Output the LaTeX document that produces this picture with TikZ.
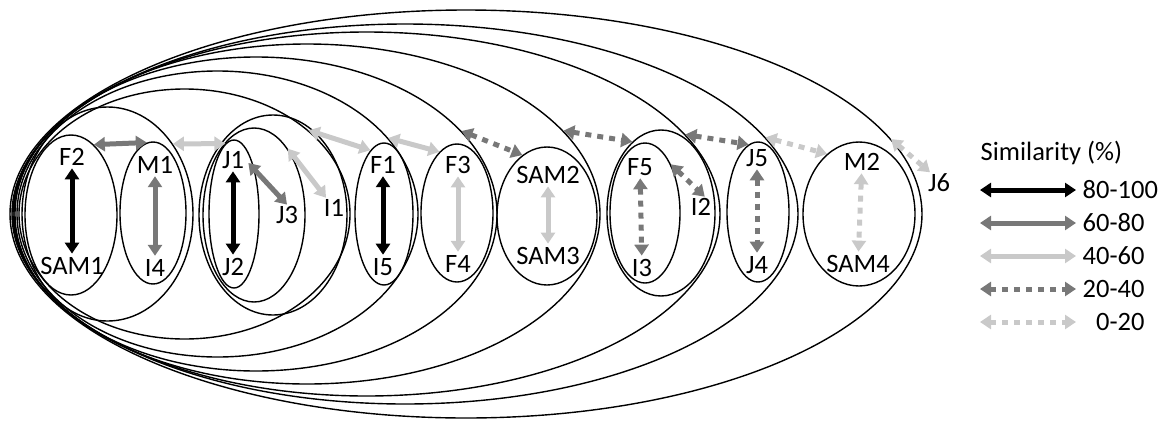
\documentclass[tikz,border=0pt]{standalone}
\usepackage{fontspec}
\setmainfont{Carlito}
\usetikzlibrary{shapes.geometric,arrows.meta}
\definecolor{simmid}{gray}{0.47}
\definecolor{simlow}{gray}{0.79}
\newcommand{\lblfont}{\fontsize{26.5}{30}\selectfont}

\tikzset{
  grp/.style={draw, ellipse, line width=1.4pt, inner sep=0pt},
  lbl/.style={inner sep=1.5pt, font=\lblfont},
  simarrow/.style={line width=5pt, {Triangle[width=14pt,length=11pt]}-{Triangle[width=14pt,length=11pt]}},
  sim80/.style={simarrow, black},
  sim60/.style={simarrow, simmid},
  sim40/.style={simarrow, simlow},
  sim20/.style={simarrow, simmid, dash pattern=on 6pt off 6pt},
  sim0/.style={simarrow, simlow, dash pattern=on 6pt off 6pt},
  pairarrow/.style={shorten <=1pt, shorten >=2pt},
}

\begin{document}
\begin{tikzpicture}[x=1pt,y=-1pt]
    \useasboundingbox (0,0) rectangle (1165,421);

    % nested clusters, all touching on the left
    \foreach \n/\cx/\w/\h in {cl1/107.5/171/214, cl2/184.5/331/250, cl3/217.5/401/286,
        cl4/256/482/314, cl5/307/586/340, cl6/366.5/707/364, cl7/405/786/380, cl8/466/912/408}
        \node[grp, minimum width=\w pt, minimum height=\h pt] (\n) at (\cx,214) {};

    % small groups
    \node[grp, minimum width=92pt, minimum height=160pt] (pFS) at (71,215) {};
    \node[grp, minimum width=66pt, minimum height=142pt] (pMI) at (153,213) {};
    \node[grp, minimum width=50pt, minimum height=148pt] (pJJ) at (234,214) {};
    \node[grp, minimum width=102pt, minimum height=174pt] (pJJ3) at (254,215) {};
    \node[grp, minimum width=148pt, minimum height=200pt] (pJI) at (273,215) {};
    \node[grp, minimum width=58pt, minimum height=142pt] (pFI) at (384,214) {};
    \node[grp, minimum width=72pt, minimum height=138pt] (pFF) at (457,213) {};
    \node[grp, minimum width=100pt, minimum height=138pt] (pSS) at (547,216) {};
    \node[grp, minimum width=70pt, minimum height=140pt] (pFI3) at (645,213) {};
    \node[grp, minimum width=108pt, minimum height=166pt] (pFI2) at (661,213) {};
    \node[grp, minimum width=62pt, minimum height=140pt] (pJ54) at (758,212) {};
    \node[grp, minimum width=112pt, minimum height=144pt] (pMS) at (859,214) {};

    % labels
    \node[lbl] (F2) at (72,157) {F2};
    \node[lbl] (SAM1) at (72,266) {SAM1};
    \node[lbl] (M1) at (155,165) {M1};
    \node[lbl] (I4) at (155,268) {I4};
    \node[lbl] (J1) at (233,160) {J1};
    \node[lbl] (J2) at (233,267) {J2};
    \node[lbl] (J3) at (287,215) {J3};
    \node[lbl] (I1) at (334,208) {I1};
    \node[lbl] (F1) at (383,165) {F1};
    \node[lbl] (I5) at (383,267) {I5};
    \node[lbl] (F3) at (458,165) {F3};
    \node[lbl] (F4) at (458,264) {F4};
    \node[lbl] (SAM2) at (548,175) {SAM2};
    \node[lbl] (SAM3) at (548,256) {SAM3};
    \node[lbl] (F5) at (640,167) {F5};
    \node[lbl] (I3) at (642,268) {I3};
    \node[lbl] (I2) at (701,207) {I2};
    \node[lbl] (J5) at (757,158) {J5};
    \node[lbl] (J4) at (757,265) {J4};
    \node[lbl] (M2) at (862,162) {M2};
    \node[lbl] (SAM4) at (858,264) {SAM4};
    \node[lbl] (J6) at (939,183) {J6};

    % links inside the groups
    \draw[sim80, pairarrow] (F2) -- (SAM1);
    \draw[sim60, pairarrow] (M1) -- (I4);
    \draw[sim80, pairarrow] (J1) -- (J2);
    \draw[sim80, pairarrow] (F1) -- (I5);
    \draw[sim40, pairarrow] (F3) -- (F4);
    \draw[sim40, pairarrow] (SAM2) -- (SAM3);
    \draw[sim20, pairarrow] (F5) -- (I3);
    \draw[sim20, pairarrow] (J5) -- (J4);
    \draw[sim0, pairarrow] (M2) -- (SAM4);
    \draw[sim60, shorten <=4pt] (J1.east) -- (J3.north);
    \draw[sim40] (pJJ3.63) -- (I1);
    \draw[sim20] (pFI3.62) -- (I2.70);

    % links between the groups
    \draw[sim60] (pFS.72) -- (pMI.95);
    \draw[sim40] (cl1.47) -- (pJJ.97);
    \draw[sim40] (cl2.34) -- (pFI.102);
    \draw[sim40] (cl3.24) -- (pFF.106);
    \draw[sim20] (cl4.22) -- (pSS.112);
    \draw[sim20] (cl5.18) -- (pFI2.112);
    \draw[sim20] (cl6.14) -- (pJ54.98);
    \draw[sim0] (cl7.12) -- (pMS.118);
    \draw[sim0] (cl8.10) -- (J6.130);

    % legend
    \node[lbl, anchor=west] (simtitle) at (979,153) {Similarity (\%)};
    \foreach \st/\txt [count=\r] in {sim80/80-100, sim60/60-80, sim40/40-60, sim20/20-40, sim0/\hphantom{0}0-20} {
        \pgfmathsetmacro{\ky}{190+(\r-1)*33}
        \coordinate (key\r w) at (980,\ky);
        \coordinate (key\r e) at (1076,\ky);
        \draw[\st] (key\r w) -- (key\r e);
        \node[lbl, anchor=west] (keytxt\r) at (1081,\ky) {\txt};
    }
\end{tikzpicture}
\end{document}
